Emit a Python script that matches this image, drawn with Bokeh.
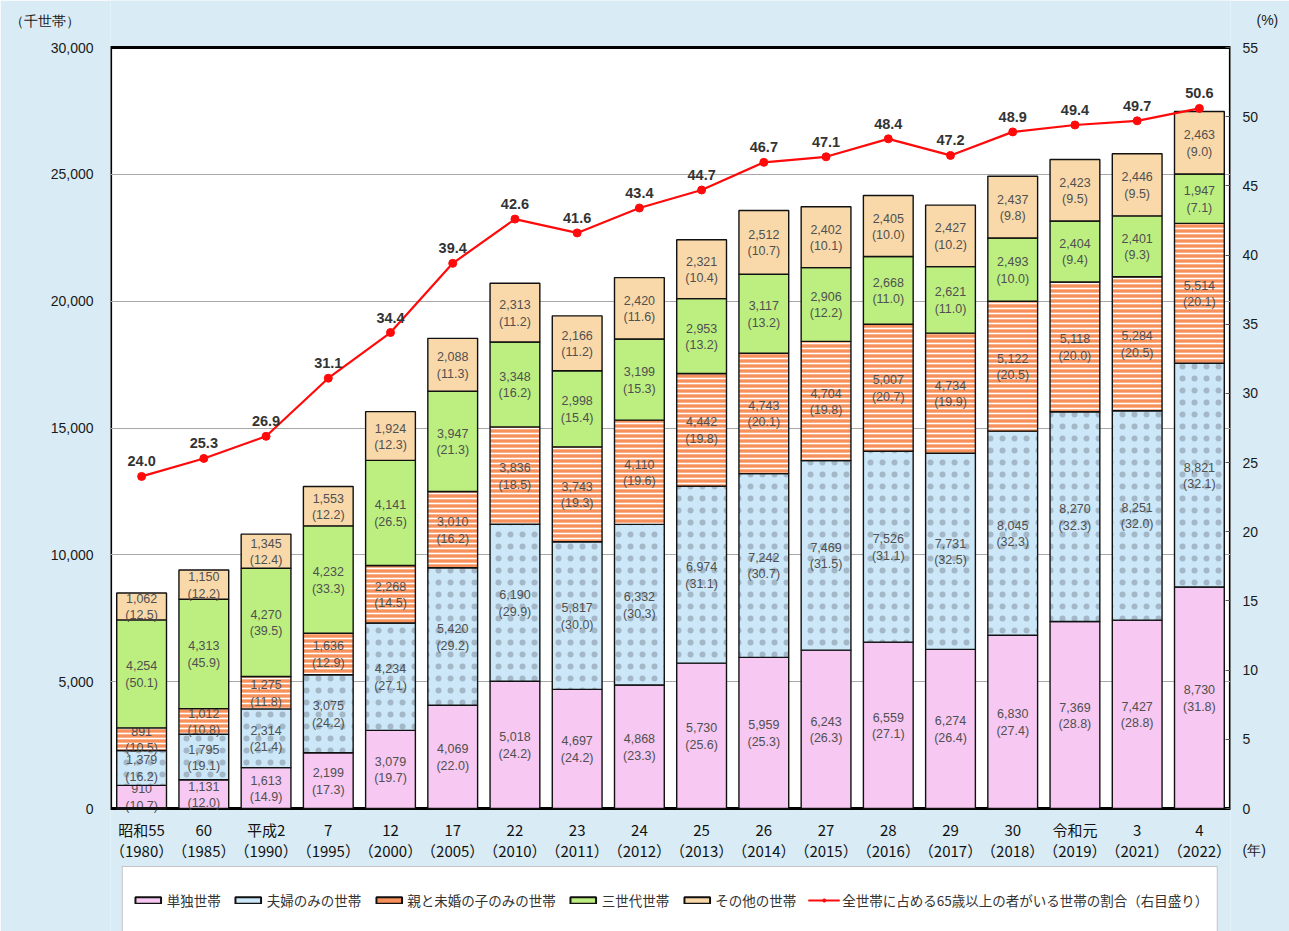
import numpy as np
from bokeh.plotting import figure
from bokeh.models import (ColumnDataSource, FactorRange, Range1d, LinearAxis,
                          NumeralTickFormatter, FixedTicker, Legend, LegendItem,
                          BoxAnnotation)
from bokeh.embed import file_html
from bokeh.resources import INLINE
from bokeh.core.properties import value

# ---------------- data ----------------
era = ["昭和55", "60", "平成2", "7", "12", "17", "22", "23", "24", "25",
       "26", "27", "28", "29", "30", "令和元", "3", "4"]
years = [1980, 1985, 1990, 1995, 2000, 2005, 2010, 2011, 2012, 2013,
         2014, 2015, 2016, 2017, 2018, 2019, 2021, 2022]

single = [910, 1131, 1613, 2199, 3079, 4069, 5018, 4697, 4868, 5730,
          5959, 6243, 6559, 6274, 6830, 7369, 7427, 8730]
single_pct = [10.7, 12.0, 14.9, 17.3, 19.7, 22.0, 24.2, 24.2, 23.3, 25.6,
              25.3, 26.3, 27.1, 26.4, 27.4, 28.8, 28.8, 31.8]

couple = [1379, 1795, 2314, 3075, 4234, 5420, 6190, 5817, 6332, 6974,
          7242, 7469, 7526, 7731, 8045, 8270, 8251, 8821]
couple_pct = [16.2, 19.1, 21.4, 24.2, 27.1, 29.2, 29.9, 30.0, 30.3, 31.1,
              30.7, 31.5, 31.1, 32.5, 32.3, 32.3, 32.0, 32.1]

parent_child = [891, 1012, 1275, 1636, 2268, 3010, 3836, 3743, 4110, 4442,
                4743, 4704, 5007, 4734, 5122, 5118, 5284, 5514]
parent_child_pct = [10.5, 10.8, 11.8, 12.9, 14.5, 16.2, 18.5, 19.3, 19.6, 19.8,
                    20.1, 19.8, 20.7, 19.9, 20.5, 20.0, 20.5, 20.1]

three_gen = [4254, 4313, 4270, 4232, 4141, 3947, 3348, 2998, 3199, 2953,
             3117, 2906, 2668, 2621, 2493, 2404, 2401, 1947]
three_gen_pct = [50.1, 45.9, 39.5, 33.3, 26.5, 21.3, 16.2, 15.4, 15.3, 13.2,
                 13.2, 12.2, 11.0, 11.0, 10.0, 9.4, 9.3, 7.1]

other = [1062, 1150, 1345, 1553, 1924, 2088, 2313, 2166, 2420, 2321,
         2512, 2402, 2405, 2427, 2437, 2423, 2446, 2463]
other_pct = [12.5, 12.2, 12.4, 12.2, 12.3, 11.3, 11.2, 11.2, 11.6, 10.4,
             10.7, 10.1, 10.0, 10.2, 9.8, 9.5, 9.5, 9.0]

ratio = [24.0, 25.3, 26.9, 31.1, 34.4, 39.4, 42.6, 41.6, 43.4, 44.7,
         46.7, 47.1, 48.4, 47.2, 48.9, 49.4, 49.7, 50.6]

series_names = ["単独世帯", "夫婦のみの世帯", "親と未婚の子のみの世帯", "三世代世帯", "その他の世帯"]
line_name = "全世帯に占める65歳以上の者がいる世帯の割合（右目盛り）"
left_unit = "（千世帯）"
right_unit = "(%)"
x_unit = "(年)"

y_max = 30000
pct_max = 55
y_ticks = [0, 5000, 10000, 15000, 20000, 25000, 30000]
pct_ticks = [0, 5, 10, 15, 20, 25, 30, 35, 40, 45, 50, 55]

# ---------------- layout constants (pixels) ----------------
W, H = 1289, 931
FRAME_LEFT, FRAME_RIGHT, PLOT_TOP, ZERO_Y = 110, 1230, 47, 808
# the frame covers the full canvas height; value ranges are extended so that
# 0 sits at ZERO_Y and the axis maximum at PLOT_TOP
px_per_unit = (ZERO_Y - PLOT_TOP)
y_lo = -y_max * (H - ZERO_Y) / px_per_unit
y_hi = y_max + y_max * PLOT_TOP / px_per_unit
pct_lo = -pct_max * (H - ZERO_Y) / px_per_unit
pct_hi = pct_max + pct_max * PLOT_TOP / px_per_unit

# positions (in axis units) of the unit captions placed with the axes
left_unit_pos = 31064      # just above the top of the left scale
right_unit_pos = 57        # just above the top of the right scale
x_unit_pos = -3            # beside the year line of the category labels

cats = [f"{e}\n（{y}）" for e, y in zip(era, years)]

BG = "#d9ecf5"
NUMFONT = "Liberation Sans"
JPFONT = "Noto Sans CJK JP"

p = figure(width=W, height=H, x_range=FactorRange(*cats, range_padding=0),
           y_range=Range1d(y_lo, y_hi), output_backend="svg", toolbar_location=None,
           min_border_left=FRAME_LEFT, min_border_right=W - FRAME_RIGHT,
           min_border_top=0, min_border_bottom=0)
p.title.visible = False
p.background_fill_color = BG
p.border_fill_color = BG
p.outline_line_color = None

p.extra_y_ranges = {"pct": Range1d(pct_lo, pct_hi)}

# white plotting area with black frame, from 0 to the top of the value axis
p.add_layout(BoxAnnotation(bottom=0, top=y_max, fill_color="white", fill_alpha=1.0,
                           line_color="black", line_alpha=1.0, line_width=3.2,
                           level="image"))

# grid
p.xgrid.grid_line_color = None
p.ygrid.ticker = FixedTicker(ticks=y_ticks[1:-1])
p.ygrid.grid_line_color = "#a8a8a8"
p.ygrid.grid_line_width = 1

# left axis (carries the unit caption above the scale)
ya = p.yaxis[0]
ya.ticker = FixedTicker(ticks=y_ticks + [left_unit_pos])
ya.formatter = NumeralTickFormatter(format="0,0")
ya.major_label_overrides = {left_unit_pos: left_unit + "\u3000"}
ya.axis_line_color = None
ya.major_tick_line_color = None
ya.minor_tick_line_color = None
ya.major_tick_out = 0
ya.major_label_standoff = 17
ya.major_label_text_font = NUMFONT
ya.major_label_text_font_size = "14px"
ya.major_label_text_color = "#1a1a1a"

# right axis (carries the % caption and the year caption)
ra = LinearAxis(y_range_name="pct",
                ticker=FixedTicker(ticks=pct_ticks + [right_unit_pos, x_unit_pos],
                                   minor_ticks=pct_ticks))
ra.major_label_overrides = {right_unit_pos: "\u3000" + right_unit, x_unit_pos: x_unit}
ra.axis_line_color = None
ra.major_tick_line_color = None
ra.major_tick_in = 0
ra.major_tick_out = 0
ra.minor_tick_in = 5
ra.minor_tick_out = 0
ra.minor_tick_line_color = "#555555"
ra.major_label_standoff = 12
ra.major_label_text_font = NUMFONT
ra.major_label_text_font_size = "14px"
ra.major_label_text_color = "#1a1a1a"
p.add_layout(ra, "right")

# x axis, pinned at zero
xa = p.xaxis[0]
xa.fixed_location = 0
xa.axis_line_color = None
xa.major_tick_line_color = None
xa.minor_tick_line_color = None
xa.major_tick_out = 0
xa.major_label_standoff = 10
xa.major_label_text_font = JPFONT
xa.major_label_text_font_size = "15px"
xa.major_label_text_color = "#111111"
xa.major_label_text_line_height = 1.0

# ---------------- stacked bars ----------------
vals = [single, couple, parent_child, three_gen, other]
pcts = [single_pct, couple_pct, parent_child_pct, three_gen_pct, other_pct]
fills = ["#f6c8f2", "#cbe7f8", "#f7915b", "#bcef80", "#f9d9aa"]
hatches = [None, "dot", "horizontal_line", None, None]
hatch_colors = [None, "#a3b7c7", "white", None, None]
hatch_scales = [None, 12, 5, None, None]
hatch_weights = [None, 0.4, 1.6, None, None]

bottom = np.zeros(len(cats))
swatches = []
for i in range(5):
    v = np.array(vals[i], dtype=float)
    top = bottom + v
    src = ColumnDataSource(dict(
        x=cats, bottom=bottom.copy(), top=top.copy(), mid=(bottom + top) / 2,
        l1=[f"{int(a):,}" for a in vals[i]],
        l2=[f"({b:.1f})" for b in pcts[i]],
    ))
    kw = dict(x="x", bottom="bottom", top="top", width=0.8, source=src,
              fill_color=fills[i], line_color="#111111", line_width=1.4)
    if hatches[i]:
        kw.update(hatch_pattern=hatches[i], hatch_color=hatch_colors[i],
                  hatch_scale=hatch_scales[i], hatch_weight=hatch_weights[i])
    p.vbar(**kw)
    # plain swatch (no pattern) used only by the legend: a zero-height bar at the base
    swatches.append(p.vbar(x=[cats[0]], bottom=[0], top=[0], width=0.8,
                           fill_color=fills[i], line_color="#111111", line_width=2))
    p.text(x="x", y="mid", text="l1", source=src, text_align="center",
           text_baseline="middle", y_offset=-8, text_font=value(NUMFONT),
           text_font_size="12.5px", text_color="#505050")
    p.text(x="x", y="mid", text="l2", source=src, text_align="center",
           text_baseline="middle", y_offset=9, text_font=value(NUMFONT),
           text_font_size="12.5px", text_color="#505050")
    bottom = top

# ---------------- line ----------------
lsrc = ColumnDataSource(dict(x=cats, y=ratio, lab=[f"{r:.1f}" for r in ratio]))
lr = p.line(x="x", y="y", source=lsrc, y_range_name="pct", line_color="#ff0a0a",
            line_width=2.2)
sr = p.scatter(x="x", y="y", source=lsrc, y_range_name="pct", marker="circle",
               size=8, fill_color="#ff0a0a", line_color="#ff0a0a")
p.text(x="x", y="y", text="lab", source=lsrc, y_range_name="pct",
       text_align="center", text_baseline="bottom", y_offset=-10,
       text_font=value(NUMFONT), text_font_size="14.5px", text_font_style="bold",
       text_color="#333333")

# ---------------- legend ----------------
items = [LegendItem(label=series_names[i], renderers=[swatches[i]]) for i in range(5)]
items.append(LegendItem(label=line_name, renderers=[lr, sr]))
legend = Legend(items=items, orientation="horizontal", location="bottom_center",
                label_text_font=JPFONT, label_text_font_size="13.5px",
                label_text_color="#333333", glyph_width=32, glyph_height=8,
                label_standoff=3, spacing=11, padding=9, label_height=48,
                border_line_color="#8a8a8a", border_line_width=1,
                background_fill_color="white", background_fill_alpha=1.0,
                margin=-3)
p.add_layout(legend, "center")

open("out.html", "w").write(file_html(p, INLINE))
